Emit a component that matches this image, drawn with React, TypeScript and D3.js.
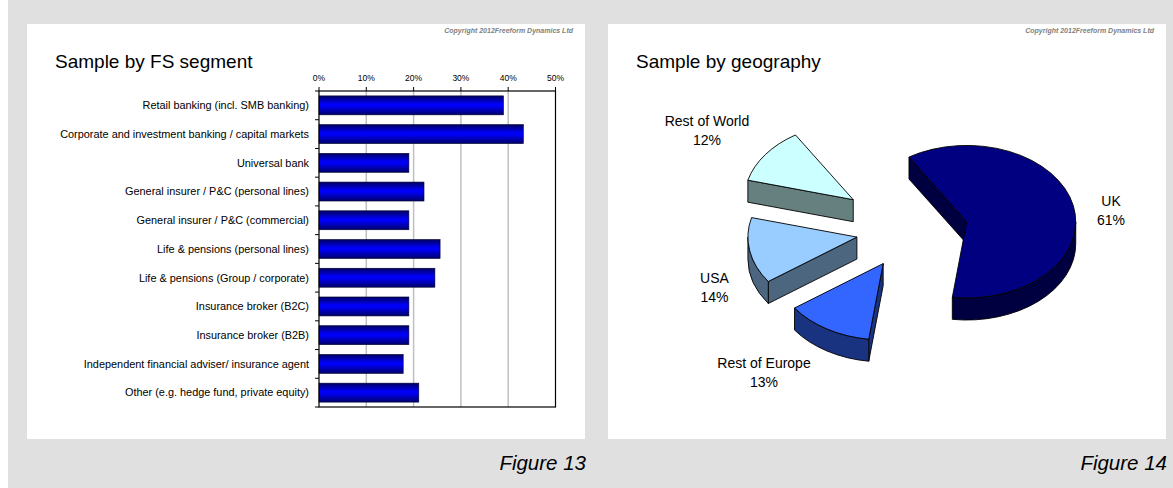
import React from "react";
import * as d3 from "d3";

// ---- Figure 13: sample by FS segment (percent of respondents) ----
const segments = [
  "Retail banking (incl. SMB banking)",
  "Corporate and investment banking / capital markets",
  "Universal bank",
  "General insurer / P&C (personal lines)",
  "General insurer / P&C (commercial)",
  "Life & pensions (personal lines)",
  "Life & pensions (Group / corporate)",
  "Insurance broker (B2C)",
  "Insurance broker (B2B)",
  "Independent financial adviser/ insurance agent",
  "Other (e.g. hedge fund, private equity)",
];
const segmentShare = [39, 43.2, 19, 22.2, 19, 25.6, 24.5, 19, 19, 17.8, 21.1];
const percentTicks = [0, 10, 20, 30, 40, 50];

// ---- Figure 14: sample by geography ----
const regions = ["UK", "Rest of Europe", "USA", "Rest of World"];
const regionShare = [61, 13, 14, 12];

const W = 1173;
const H = 488;
const FONT = "Arial, 'Liberation Sans', Helvetica, sans-serif";
const BG = "#e0e0e0";

// panel layout
const panels = [
  { x: 27, y: 24, w: 558, h: 415 },
  { x: 608, y: 24, w: 558, h: 415 },
];

// bar chart frame
const plot = { left: 319, right: 555.5, top: 91, bottom: 407 };

// 3D pie geometry
const pie3d = {
  cx: 912,
  cy: 230,
  rx: 109,
  tilt: 0.7,
  depth: 22,
  startDeg: -32,
};
const regionExplode = [56, 56, 56, 73];
const regionTop = ["#000080", "#3366ff", "#99ccff", "#ccffff"];
const regionSide = ["#000040", "#1a3380", "#4d6680", "#668080"];
// first-line baseline of each label, relative to the pie centre
const regionLabelOffset: [number, number][] = [
  [199, -24],
  [-148, 138],
  [-197.5, 53],
  [-205, -104],
];

function BarChart() {
  const x = d3
    .scaleLinear()
    .domain([0, 50])
    .range([plot.left, plot.right]);
  const y = d3
    .scaleBand<string>()
    .domain(segments)
    .range([plot.top, plot.bottom])
    .paddingInner(0.34)
    .paddingOuter(0.17);
  const step = (plot.bottom - plot.top) / segments.length;
  const boundaries = d3.range(segments.length + 1).map((i) => plot.top + i * step);

  return (
    <g>
      <defs>
        <linearGradient id="barFill" x1="0" y1="0" x2="0" y2="1">
          <stop offset="0" stopColor="#000060" />
          <stop offset="0.45" stopColor="#0000ff" />
          <stop offset="0.55" stopColor="#0000f2" />
          <stop offset="1" stopColor="#000068" />
        </linearGradient>
      </defs>
      {/* gridlines */}
      {percentTicks
        .filter((t) => t > 0 && t < 50)
        .map((t) => (
          <line
            key={t}
            x1={x(t)}
            x2={x(t)}
            y1={plot.top}
            y2={plot.bottom}
            stroke="#c0c0c0"
            strokeWidth={1.5}
          />
        ))}
      {/* bars */}
      {segments.map((s, i) => (
        <rect
          key={s}
          x={x(0)}
          y={y(s)}
          width={x(segmentShare[i]) - x(0)}
          height={y.bandwidth()}
          fill="url(#barFill)"
          stroke="#000030"
          strokeWidth={0.6}
        />
      ))}
      {/* frame */}
      <rect
        x={plot.left}
        y={plot.top}
        width={plot.right - plot.left}
        height={plot.bottom - plot.top}
        fill="none"
        stroke="#000"
        strokeWidth={1.2}
      />
      {/* top axis ticks & labels */}
      {percentTicks.map((t) => (
        <g key={t}>
          <line x1={x(t)} x2={x(t)} y1={plot.top - 4} y2={plot.top} stroke="#000" />
          <text
            x={x(t)}
            y={81}
            textAnchor="middle"
            fontFamily={FONT}
            fontSize={8.5}
            fill="#000"
          >
            {t}%
          </text>
        </g>
      ))}
      {/* category ticks */}
      {boundaries.map((b, i) => (
        <line key={i} x1={plot.left - 4} x2={plot.left} y1={b} y2={b} stroke="#000" />
      ))}
      {segments.map((s) => (
        <text
          key={s}
          x={309}
          y={(y(s) as number) + y.bandwidth() / 2 + 3.8}
          textAnchor="end"
          fontFamily={FONT}
          fontSize={10.9}
          fill="#000"
        >
          {s}
        </text>
      ))}
    </g>
  );
}

function Pie3D() {
  const { cx, cy, rx, tilt, depth, startDeg } = pie3d;
  const ry = rx * tilt;
  const rad = (deg: number) => (deg * Math.PI) / 180;
  const pt = (o: [number, number], deg: number, r: number): [number, number] => [
    o[0] + r * Math.sin(rad(deg)),
    o[1] - r * Math.cos(rad(deg)) * tilt,
  ];

  const total = d3.sum(regionShare);
  const angleScale = d3.scaleLinear().domain([0, total]).range([0, 360]);
  const cum = d3.cumsum(regionShare);

  const slices = regions.map((name, i) => {
    const a0 = startDeg + angleScale(i === 0 ? 0 : cum[i - 1]);
    const a1 = startDeg + angleScale(cum[i]);
    const mid = (a0 + a1) / 2;
    const apex = pt([cx, cy], mid, regionExplode[i]);
    const p0 = pt(apex, a0, rx);
    const p1 = pt(apex, a1, rx);
    const large = a1 - a0 > 180 ? 1 : 0;
    const top = `M${apex[0]},${apex[1]}L${p0[0]},${p0[1]}A${rx},${ry} 0 ${large} 1 ${p1[0]},${p1[1]}Z`;

    const faces: string[] = [];
    // a radial cut face is drawn only when it turns toward the viewer
    const radial = (a: number) => {
      const p = pt(apex, a, rx);
      return `M${apex[0]},${apex[1]}L${p[0]},${p[1]}L${p[0]},${p[1] + depth}L${apex[0]},${apex[1] + depth}Z`;
    };
    if (Math.sin(rad(a0)) < -1e-6) faces.push(radial(a0));
    if (Math.sin(rad(a1)) > 1e-6) faces.push(radial(a1));
    // outer wall, visible on the near half of the ellipse (90..270 degrees)
    const b0 = Math.max(a0, 90);
    const b1 = Math.min(a1, 270);
    if (b1 > b0) {
      const q0 = pt(apex, b0, rx);
      const q1 = pt(apex, b1, rx);
      faces.push(
        `M${q0[0]},${q0[1]}A${rx},${ry} 0 0 1 ${q1[0]},${q1[1]}L${q1[0]},${q1[1] + depth}A${rx},${ry} 0 0 0 ${q0[0]},${q0[1] + depth}Z`
      );
    }
    return { name, i, top, faces };
  });

  return (
    <g>
      {slices.map((s) => (
        <g key={s.name}>
          {s.faces.map((f, j) => (
            <path
              key={j}
              d={f}
              fill={regionSide[s.i]}
              stroke="#000"
              strokeWidth={0.9}
              strokeLinejoin="round"
            />
          ))}
          <path
            d={s.top}
            fill={regionTop[s.i]}
            stroke="#000"
            strokeWidth={0.9}
            strokeLinejoin="round"
          />
        </g>
      ))}
      {regions.map((name, i) => {
        const lx = cx + regionLabelOffset[i][0];
        const ly = cy + regionLabelOffset[i][1];
        return (
          <text
            key={name}
            textAnchor="middle"
            fontFamily={FONT}
            fontSize={14}
            fill="#000"
          >
            <tspan x={lx} y={ly}>
              {name}
            </tspan>
            <tspan x={lx} y={ly + 18.5}>
              {regionShare[i]}%
            </tspan>
          </text>
        );
      })}
    </g>
  );
}

export default function App() {
  const titles = ["Sample by FS segment", "Sample by geography"];
  const figures = ["Figure 13", "Figure 14"];
  return (
    <svg
      width={W}
      height={H}
      viewBox={`0 0 ${W} ${H}`}
      style={{ position: "absolute", left: 0, top: 0, display: "block" }}
    >
      <rect x={0} y={0} width={W} height={H} fill="#fff" />
      <rect x={8} y={0} width={W - 8} height={H} fill={BG} />
      {panels.map((p, i) => (
        <g key={i}>
          <rect x={p.x} y={p.y} width={p.w} height={p.h} fill="#fff" />
          <text
            x={p.x + p.w - 12}
            y={p.y + 9}
            textAnchor="end"
            fontFamily={FONT}
            fontSize={7}
            fontStyle="italic"
            fontWeight="bold"
            fill="#7f7f7f"
          >
            Copyright 2012Freeform Dynamics Ltd
          </text>
          <text
            x={p.x + 28}
            y={68}
            fontFamily={FONT}
            fontSize={19}
            fill="#000"
          >
            {titles[i]}
          </text>
          <text
            x={p.x + p.w + 1}
            y={470}
            textAnchor="end"
            fontFamily={FONT}
            fontSize={20.5}
            fontStyle="italic"
            fill="#000"
          >
            {figures[i]}
          </text>
        </g>
      ))}
      <BarChart />
      <Pie3D />
    </svg>
  );
}
